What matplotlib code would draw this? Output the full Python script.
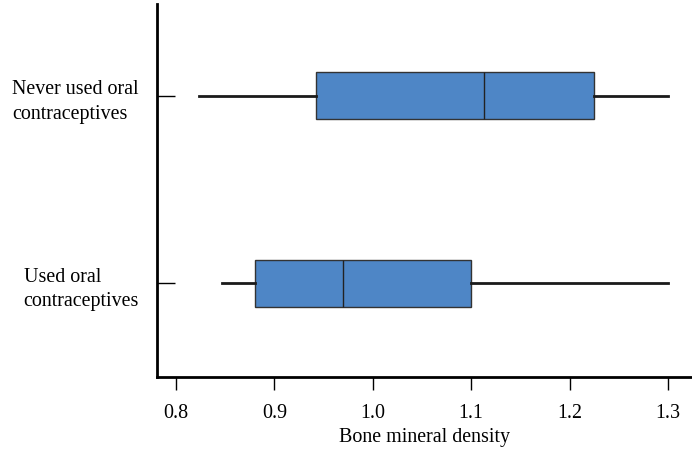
import matplotlib
matplotlib.use('Agg')
from matplotlib import pyplot as plt

groups = ['Used oral\ncontraceptives', 'Never used oral\ncontraceptives']
whislo = [0.847, 0.823]
q1 = [0.880, 0.942]
med = [0.970, 1.113]
q3 = [1.100, 1.225]
whishi = [1.300, 1.300]

plt.rcParams['font.family'] = ['Liberation Serif', 'DejaVu Serif']
plt.rcParams['font.size'] = 14.4

stats = []
for i in range(len(groups)):
    stats.append({'whislo': whislo[i], 'q1': q1[i], 'med': med[i],
                  'q3': q3[i], 'whishi': whishi[i], 'fliers': []})

fig = plt.figure(figsize=(6.92, 4.52), dpi=100)
ax = fig.add_axes([157/692, (452-378)/452, (692-157)/692, (378-5)/452])

ax.bxp(stats, positions=[1, 2], widths=0.25, vert=False, patch_artist=True,
       showcaps=False, showfliers=False,
       boxprops=dict(facecolor='#4e86c6', edgecolor='#333333', linewidth=1),
       medianprops=dict(color='#222222', linewidth=1),
       whiskerprops=dict(color='#1a1a1a', linewidth=2))

ax.set_xlim(0.7806, 1.3245)
ax.set_ylim(0.5, 2.49)
ax.set_xticks([0.8, 0.9, 1.0, 1.1, 1.2, 1.3])
ax.set_xticklabels(['0.8', '0.9', '1.0', '1.1', '1.2', '1.3'])
ax.set_yticks([1, 2])
ax.set_yticklabels(groups)
for t in ax.get_yticklabels():
    t.set_multialignment('left')
    t.set_linespacing(1.4)

ax.spines['top'].set_visible(False)
ax.spines['right'].set_visible(False)
ax.spines['left'].set_linewidth(2)
ax.spines['bottom'].set_linewidth(2)
ax.tick_params(axis='y', direction='in', length=13, width=1, pad=13)
ax.tick_params(axis='x', direction='out', length=9.5, width=1, pad=9)

ax.set_xlabel('Bone mineral density', labelpad=4)

fig.savefig('out.png')
